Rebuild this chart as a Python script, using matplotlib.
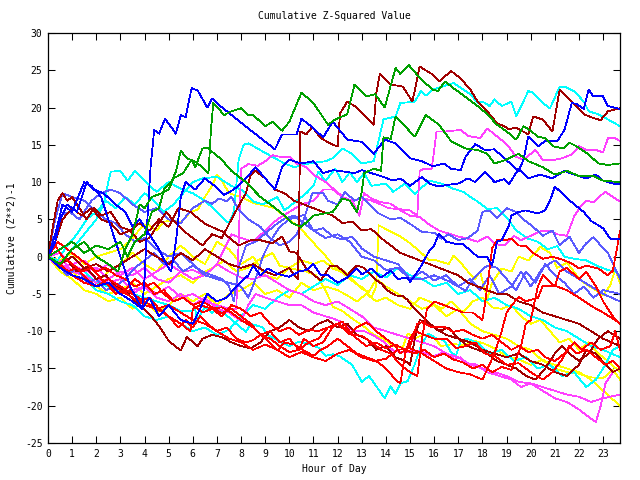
import matplotlib
matplotlib.use("Agg")
import matplotlib.pyplot as plt

# ---------------- data: (hour, cumulative value) vertices ----------------
blue_1 = [(0,0),(0.3,3),(0.6,7),(1.0,6),(1.5,10),(1.8,9.5),(2.2,8),(2.6,4),(3.0,0),(3.4,-4),(3.9,-7),(4.0,-3),(4.1,4),
          (4.25,12),(4.4,17),(4.6,16.5),(4.85,18.5),(5.3,16.5),(5.5,19),(5.7,18.7),(5.95,22.6),(6.2,22.3),(6.6,20),(6.8,21.2),
          (7.1,20.3),(7.8,18.5),(8.3,17.2),(9.4,14.4),(9.7,16.4),(10.3,16.4),(10.5,18.5),(10.9,17.5),(11.4,16),(11.8,18.1),
          (12.4,15.7),(13.0,15.4),(13.5,13.8),(13.95,15.7),(14.4,15.2),(15.0,13.2),(15.5,12.8),(15.95,12.1),(16.4,12.5),
          (16.7,11.8),(17.1,11.6),(17.3,13.4),(17.7,15.1),(18.1,14.3),(18.5,14.4),(18.9,13.2),(19.5,11.5),(19.7,13),(19.9,16.1),
          (20.3,14.8),(20.6,15.5),(21.1,15.5),(21.4,17),(21.7,20.6),(21.9,20.5),(22.2,19.8),(22.4,22.4),(22.6,21.5),(23.0,21.5),
          (23.2,20.2),(23.7,19.8)]
blue_2 = [(0,0),(0.3,2),(0.5,5),(0.8,7),(1.2,6),(1.6,10),(1.9,9),(2.3,8.5),(2.8,7),(3.2,6),(3.5,4),(3.8,5),(4.2,3),(4.6,1),
          (4.9,-1),(5.1,-2),(5.3,2),(5.5,8),(5.7,10),(6.1,9),(6.5,10.5),(6.9,9.5),(7.3,8.3),(7.7,9),(8.2,10.5),(8.6,12),(9.0,10.5),
          (9.4,9),(9.7,12),(10.0,13),(10.5,12.5),(11.0,12.8),(11.4,11.2),(11.8,11.6),(12.3,11.4),(12.7,11.2),(13.0,11.6),
          (13.4,11.2),(13.8,10.8),(14.3,10.2),(14.6,10.5),(15.0,9.5),(15.5,10.7),(15.8,9.8),(16.2,9.4),(16.5,9.6),(17.0,9.8),
          (17.4,10.5),(17.7,10),(18.1,11.4),(18.5,10),(18.9,10.4),(19.1,9.7),(19.5,11.8),(19.9,10.5),(20.4,11),(20.9,10.5),
          (21.4,11.5),(21.8,11),(22.3,10.5),(22.7,11),(23.0,10.2),(23.4,9.8),(23.7,9.7)]
blue_3 = [(0,0),(0.5,-1.5),(1,-2.5),(1.5,-3),(2,-4),(2.5,-3.5),(3,-5),(3.5,-6),(3.9,-7),(4.2,-5.5),(4.6,-8),(5,-6.5),(5.5,-8.5),
          (6,-9),(6.3,-7),(6.6,-5),(7,-6),(7.4,-5.5),(7.8,-4),(8.3,-2.5),(8.5,-1.2),(8.8,-2.5),(9.1,-1.6),(9.5,-2.3),(10.0,-2.7),
          (10.4,-2),(10.7,-1.8),(11.0,-1),(11.3,-2.5),(11.6,-2.5),(12.0,-3.5),(12.4,-2.8),(12.8,-1.6),(13.0,-2.4),(13.4,-1.6),
          (13.8,-2.8),(14.2,-1.9),(14.5,-3),(14.9,-2.8),(15.0,-3.4),(15.4,-1.6),(15.8,0.8),(16.0,1.5),(16.2,3.1),(16.5,2),
          (16.9,1.7),(17.2,1.7),(17.5,0.8),(17.8,0),(18.2,-0.1),(18.4,-1.2),(18.6,2),(18.8,2.2),(19.1,4.2),(19.2,5.5),(19.5,6),
          (19.8,6.2),(20.3,5.8),(20.6,6.2),(20.8,7.5),(21.0,9.4),(21.4,8.2),(21.8,7),(22.2,6),(22.5,4.8),(23.0,3.8),(23.3,2.4),
          (23.7,2.4)]
mblue_1 = [(0,0),(0.3,5),(0.6,8.5),(1,8),(1.5,7.5),(2,6),(2.4,5),(2.8,4.5),(3.2,3),(3.6,2),(4,2.5),(4.5,1),(5,0),(5.5,0.5),
           (6,-1),(6.5,-2.5),(7,-3),(7.5,-3.5),(8,-4),(8.3,-5.5),(8.6,-3),(8.9,0),(9.2,2),(9.6,4),(10,5),(10.6,5.6),(11,3.5),
           (11.5,2.5),(12,3),(12.5,2),(13,0),(13.5,-0.5),(14,-1.8),(14.5,-1.5),(15,-3),(15.5,-2),(16,-3.2),(16.5,-2.5),(17,-4),
           (17.5,-3),(17.9,-4.5),(18.3,-2.5),(18.7,-5),(19.2,-4),(19.6,-2),(20,-4),(20.5,-1.5),(21,-0.5),(21.5,-2),(22,-3),
           (22.5,-4),(23,-5),(23.7,-6)]
mblue_2 = [(0,0),(0.3,3),(0.5,5.5),(0.9,6),(1.3,5),(1.8,7.5),(2.2,8.5),(2.6,9),(3.0,8.5),(3.5,7),(4.0,6),(4.5,6.5),(5.0,5),
           (5.5,4.5),(6.0,6.5),(6.5,7.5),(6.8,7.1),(7.1,7.8),(7.4,7.4),(7.6,8),(7.9,6.3),(8.3,5),(8.8,4),(9.2,2.5),(9.6,1.5),
           (10.0,2),(10.3,3),(10.6,5),(10.95,8.5),(11.4,8.5),(11.6,7.5),(12.0,7),(12.3,8.7),(12.7,7.5),(13.0,8),(13.3,7),
           (13.7,5.8),(14.2,5),(14.6,5.2),(15.0,4.4),(15.5,3.3),(16.0,3.2),(16.3,2.4),(16.6,3),(17.0,2.2),(17.4,2.5),(17.8,3.5),
           (18.0,6),(18.3,6.2),(18.6,5.2),(19.0,6.5),(19.4,6),(19.7,5),(20.1,4),(20.5,2.8),(20.9,3.5),(21.2,1.5),(21.6,2.7),
           (22.0,0.5),(22.3,1.8),(22.6,2.6),(22.9,1.5),(23.2,0.5),(23.7,-3)]
mblue_3 = [(0,0),(0.4,-1),(0.8,-2.5),(1.2,-1.5),(1.6,-3.5),(2.0,-3),(2.4,-4.5),(2.8,-4),(3.2,-3),(3.6,-1.5),(4.0,-0.5),
           (4.4,0.5),(4.8,-1),(5.2,-0.5),(5.6,-2),(6.0,-1.2),(6.4,-2),(6.8,-2.5),(7.2,-3),(7.5,-4),(7.7,-6),(7.9,-1.5),(8.2,1.5),
           (8.6,2),(9.0,3.1),(9.4,4.2),(9.8,5.1),(10.2,5.5),(10.6,4.5),(11.0,3.5),(11.4,3.8),(11.8,2.7),(12.2,2.3),(12.6,2.7),
           (13.0,1.1),(13.5,0),(14.0,-0.5),(14.5,-1),(15.0,-3),(15.5,-3),(16.0,-2.5),(16.6,-3.3),(17.0,-4),(17.3,-4.6),
           (17.6,-3),(17.9,-2),(18.2,-1.2),(18.6,-1.5),(19.0,-3),(19.4,-4.5),(19.8,-2),(20.2,-3.5),(20.6,-1),(21.0,-2.5),
           (21.4,-3.5),(21.8,-5),(22.2,-4),(22.6,-5.5),(23.0,-4.5),(23.7,-5)]
green_1 = [(0,0),(0.5,1),(1,2),(1.5,0.5),(2,1.5),(2.5,1),(3,2),(3.3,0),(3.6,2),(4,3),(4.3,6),(4.6,6.5),(4.8,9),(5.1,10),
           (5.3,11.4),(5.5,14.2),(5.75,13.2),(6.0,12.9),(6.2,12.5),(6.5,11.7),(6.65,11.2),(6.75,17),(6.85,20.6),(7.3,19),
           (7.6,19.5),(8.0,19.9),(8.3,19),(8.5,19),(9.0,17.5),(9.3,18.1),(9.7,16.9),(10.0,18.1),(10.5,22),(11.0,20.6),(11.6,17.7),
           (11.9,18.4),(12.4,19.1),(12.7,23.1),(13.2,21.5),(13.55,21.8),(13.95,20),(14.4,25.3),(14.6,24.5),(14.95,25.7),
           (15.45,23.8),(15.95,22.4),(16.15,22.2),(16.45,23.5),(16.8,22.6),(17.1,21.9),(17.35,21.3),(17.8,20.2),(18.2,19.1),
           (18.6,17.7),(19.0,16.8),(19.4,15.7),(19.7,17.5),(19.95,17),(20.3,16.1),(20.6,15.9),(20.95,14.8),(21.35,14.5),
           (21.6,15.3),(21.9,14.8),(22.4,13.7),(22.8,12.5),(23.2,12.3),(23.7,12.5)]
green_2 = [(0,0),(0.5,-1),(1,1),(1.5,2),(2,0),(2.5,-1),(2.9,-2),(3.2,1),(3.5,3),(3.8,7),(4.0,6.5),(4.3,8),(4.7,8.5),(5.0,9),
           (5.2,10.5),(5.6,11.2),(5.95,13),(6.1,12),(6.4,14.5),(6.6,14.6),(7.2,13),(7.6,11.5),(8.2,10),(8.8,8),(9.3,6.8),
           (9.8,5.5),(10.1,4.5),(10.5,4),(11.0,5.5),(11.8,6),(12.2,7.8),(12.5,7.5),(12.8,6),(13.0,8.7),(13.1,11.2),(13.5,11.8),
           (13.8,11.5),(13.9,16),(14.2,15.8),(14.4,18.8),(15.2,16.1),(15.65,19),(16.2,17.7),(16.7,15.5),(17.3,14.5),(17.8,14.3),
           (18.2,13.8),(18.5,12.5),(18.9,12.9),(19.5,13.8),(19.9,12.8),(20.5,12),(21.0,11),(21.5,11.5),(22.0,10.8),(22.6,10.8),
           (23.0,10.2),(23.7,10)]
cyan_1 = [(0,0),(0.5,-1),(1,1),(1.5,3),(2,5),(2.3,7),(2.5,10),(2.6,11.4),(3.0,11.5),(3.3,10.2),(3.6,11.5),(4.2,9.5),(4.5,8.7),
          (5.0,10),(5.5,9.1),(6.0,8.5),(6.5,7.5),(7.0,6),(7.3,5),(7.5,4.5),(7.7,6),(7.9,13),(8.1,15),(8.3,15.2),(8.9,14.1),
          (9.4,13.2),(9.8,12.5),(10.2,12),(10.8,12.5),(11.5,12.8),(11.8,13.2),(12.2,14.5),(12.6,13.8),(13.0,12.5),(13.5,12.8),
          (13.9,18.4),(14.4,18.8),(14.6,20.6),(15.2,20.8),(15.45,22.2),(15.65,21.6),(15.95,22.4),(16.6,23.1),(16.8,23.3),
          (17.5,21.8),(17.8,20.6),(18.0,20.8),(18.3,20.2),(18.5,21.1),(18.8,20.2),(19.2,20.8),(19.4,18.8),(19.9,22.2),(20.1,22),
          (20.5,20.6),(20.8,19.9),(21.2,22.8),(21.4,22.8),(21.8,22.2),(22.2,20.8),(22.4,19.5),(22.8,19.1),(23.2,18.4),(23.7,17.5)]
cyan_2 = [(0,0),(0.5,-1),(1,-2),(1.5,-2),(2,-3.5),(2.5,-4),(3,-4.5),(3.5,-5),(4,-5.5),(4.5,-6),(5,-6.5),(5.5,-7.3),(5.8,-7.3),
          (6.1,-7.2),(6.2,-8.5),(6.5,-6.7),(6.8,-7.6),(7.0,-6.8),(7.3,-7.6),(7.8,-9),(8.2,-10.1),(8.4,-9),(8.9,-9.5),(9.1,-10.5),
          (9.6,-11.4),(10.0,-12),(10.4,-11.4),(10.8,-11.7),(11.2,-12.2),(11.5,-13.3),(11.8,-13.1),(12.1,-13.4),(12.6,-14.5),
          (13.0,-16.8),(13.3,-16),(13.95,-19),(14.2,-17.4),(14.4,-18.4),(14.6,-17),(14.9,-16.7),(15.2,-14.4),(15.45,-12),
          (15.75,-10.3),(16.1,-11),(16.4,-11.2),(16.7,-12.8),(16.9,-13.3),(17.1,-11.3),(17.35,-11),(17.6,-11.3),(17.8,-11.6),
          (18.3,-13),(18.8,-12.5),(19.3,-14),(19.8,-13.5),(20.3,-15),(20.8,-14.5),(21.3,-16),(21.8,-15.5),(22.3,-17.5),
          (22.7,-16.5),(23.1,-14.5),(23.4,-12.5),(23.7,-12)]
cyan_3 = [(0,0),(0.4,-0.5),(0.8,1.5),(1.2,3),(1.6,5),(2,6),(2.4,7.5),(2.8,6.5),(3.2,8),(3.6,7),(4,8.5),(4.4,7.5),(4.8,6),
          (5.2,7),(5.6,8.5),(6.0,10),(6.4,10.5),(7.0,10.7),(7.6,9.5),(8.0,9),(8.5,7.4),(8.9,7),(9.5,8),(9.8,6.2),(10.3,7.5),
          (10.7,8.5),(11.0,9.5),(11.2,11.4),(11.5,10.1),(11.7,11),(11.9,11.8),(12.2,10),(12.5,11.3),(12.8,10),(13.1,11.2),
          (13.4,9.5),(14.0,9.8),(14.3,8.7),(14.8,9.8),(15.2,8.4),(15.8,10.2),(16.3,9.8),(16.8,9.1),(17.2,8.7),(17.6,7.8),
          (17.8,7.4),(18.2,6.4),(18.6,6.5),(19.0,5.3),(19.4,3.5),(19.9,2.4),(20.3,2),(20.7,1),(21.1,1.4),(21.4,0),(21.8,-0.3),
          (22.3,-0.5),(22.8,-1.3),(23.2,-1.8),(23.5,-2),(23.7,-2.5)]
cyan_4 = [(0,0),(0.5,-1.5),(1,-2.5),(1.5,-3),(2,-4.5),(2.5,-5),(3,-6),(3.5,-6.5),(4,-8),(4.5,-8.5),(5,-8),(5.5,-9),(6,-10),
          (6.5,-9.5),(7,-10.5),(7.5,-9.8),(8,-8),(8.5,-6.5),(9,-7),(9.5,-5.5),(10,-4.5),(10.5,-5),(11,-4),(11.5,-3),(12,-3.8),
          (12.5,-2.5),(13,-3),(13.5,-2),(14,-2.8),(14.5,-1.5),(15,-2.5),(15.5,-3),(16,-4),(16.5,-3.5),(17,-5),(17.5,-4.5),
          (18,-6),(18.5,-5.5),(19,-6.5),(19.5,-7),(20,-8),(20.5,-8.5),(21,-9.5),(21.5,-10),(22,-11),(22.5,-12),(23,-12.5),
          (23.7,-13.5)]
magenta_1 = [(0,0),(0.3,-1),(0.6,-0.5),(1,-2),(1.5,-1.5),(2,-3),(2.5,-3.5),(3,-3),(3.5,-4.5),(4,-4),(4.5,-5),(5,-4),
             (5.5,-5.5),(6,-5),(6.5,-6),(7,-6.5),(7.5,-7),(7.8,-7),(7.9,2),(8.0,11.8),(8.3,12.4),(8.7,12.2),(9.0,12.8),
             (9.3,13.6),(9.6,13.4),(10.0,13.4),(10.3,12.5),(10.7,12),(11.0,11),(11.5,10),(11.9,8.9),(12.3,7.8),(12.7,7.5),
             (13.0,7.9),(13.4,7.5),(13.8,7),(14.1,6.5),(14.5,6.4),(15.0,6.2),(15.3,5.5),(15.4,11.5),(15.6,11.8),(15.9,11.8),
             (16.1,16.8),(16.5,16.8),(17.1,17),(17.4,16.2),(17.9,15.9),(18.2,17.2),(18.5,16.4),(19.0,15.1),(19.4,13.4),
             (19.7,13),(20.2,14.3),(20.5,13),(21.0,13),(21.3,13.2),(21.7,13.7),(22.0,14.8),(22.3,14.3),(22.7,14.3),(23.0,14),
             (23.2,15.9),(23.5,15.9),(23.7,15.5)]
magenta_2 = [(0,0),(0.5,0.5),(1,-1),(1.5,-0.5),(2,-2),(2.5,-1),(3,-2.5),(3.5,-1.5),(4,-3),(4.5,-2),(5,-1),(5.5,-2),(6,-3),
             (6.5,-2.5),(7,-1),(7.3,1),(7.6,3),(8,2.5),(8.5,2),(9,3.5),(9.5,5),(10,6),(10.5,7),(11,7.5),(11.4,9),(11.8,9),
             (12.2,8),(12.6,7.5),(12.9,5.5),(13.1,8.5),(13.4,7.8),(13.8,7.3),(14.2,7.1),(14.6,6.2),(15.0,5.5),(15.4,5.3),
             (15.8,4.3),(16.2,3.5),(16.6,3.1),(17.0,2.7),(17.4,2.4),(17.8,2),(18.2,2.7),(18.5,1.7),(18.9,1.5),(19.3,2.8),
             (19.6,2.2),(20.0,2.8),(20.4,3.4),(20.8,3.4),(21.1,3),(21.5,2.8),(21.8,5.4),(22.1,6.9),(22.3,7.5),(22.6,7.3),
             (22.9,8.2),(23.1,8.7),(23.4,8),(23.7,7.4)]
magenta_3 = [(0,0),(0.5,-1),(1,-2),(1.5,-2.5),(2,-3.5),(2.5,-3),(3,-4.5),(3.5,-5),(4,-4),(4.5,-5.5),(5,-6),(5.5,-5),(6,-6.5),
             (6.5,-5.5),(7,-7),(7.5,-7.5),(8,-8.6),(8.3,-6.5),(8.6,-5),(9,-5.5),(9.5,-6),(10,-6.5),(10.5,-6.5),(11,-7.5),
             (11.5,-8),(11.8,-8.3),(12.2,-8.8),(12.6,-9.9),(13.1,-10),(13.5,-10.6),(13.9,-11.4),(14.3,-12.6),(14.8,-12.8),
             (15.3,-12.6),(15.6,-12.9),(15.95,-13.4),(16.4,-12.8),(16.8,-13.7),(17.1,-13.5),(17.3,-14.4),(17.7,-14.4),
             (18.2,-15.5),(18.7,-16),(19.2,-16.5),(19.6,-17.5),(20,-17),(20.5,-18),(21,-19),(21.5,-19.5),(22,-20.5),
             (22.4,-21.5),(22.7,-22.2),(22.9,-20),(23.1,-17),(23.4,-15.5),(23.7,-15)]
magenta_4 = [(0,0),(0.5,-1.5),(1,-1),(1.5,-2),(2,-1.5),(2.5,-3),(3,-2),(3.5,-2.5),(4,-1.5),(4.5,-3),(5,-3.5),(5.5,-2),
             (6,-1.8),(6.5,-2.5),(7,-1),(7.5,-2),(8,-2.8),(8.5,-3),(9,-2.5),(9.5,-3.5),(10,-4.5),(10.5,-5),(11,-6),(11.5,-6.5),
             (12,-6),(12.5,-7),(13,-8),(13.5,-9.5),(14,-10),(14.5,-10.5),(15,-11),(15.5,-11.5),(16,-12),(16.5,-13),(17,-13.5),
             (17.5,-14.5),(18,-15),(18.5,-15.5),(19,-16),(19.5,-16.8),(20,-17),(20.5,-17.5),(21,-18),(21.5,-18.5),(22,-18.8),
             (22.5,-19.5),(23,-19),(23.7,-18.5)]
yellow_1 = [(0,0),(0.5,-1),(1,-2),(1.5,-2.5),(2,-3.5),(2.5,-2),(3,-1),(3.5,0.5),(4,-1),(4.5,-2),(5,0),(5.5,1.5),(6,0),(6.5,-1),
            (7,2),(7.5,1),(8,-1),(8.5,0),(9,-2.5),(9.5,-3),(10,-1.5),(10.5,-0.5),(11,-1),(11.4,-0.5),(11.8,-1.6),(12.2,-2.1),
            (12.7,-3.5),(13.1,-4.3),(13.4,-5.5),(13.6,-4),(13.7,4.2),(14.6,2.7),(15.0,1.8),(15.4,0.7),(15.8,-0.5),(16.1,-0.5),
            (16.6,-1),(16.8,0.1),(17.2,-1.2),(17.4,-2),(17.7,-3),(17.9,-2),(18.2,-5.6),(18.4,-3.5),(18.8,-1.6),(19.2,-2),(19.5,0),
            (19.9,-0.5),(20.4,1.3),(20.8,0.5),(21.1,-1.5),(21.5,-0.8),(21.9,-2.5),(22.2,-3.5),(22.7,-4.5),(23.0,-5.2),(23.3,-3.8),
            (23.5,-1.7),(23.7,-3.5)]
yellow_2 = [(0,0),(0.5,-0.5),(1,0.5),(1.5,-1),(2,0),(2.5,0.5),(3,1),(3.5,2.4),(3.8,3.7),(4.1,4.4),(4.5,3.5),(4.8,4.7),(5.2,4.8),
            (5.5,4.6),(5.9,6),(6.2,6.3),(6.5,8),(6.8,9.5),(7.0,11),(7.2,10.2),(7.5,8.5),(8.0,8),(8.5,7.2),(9.4,6.5),(9.9,5.1),
            (10.4,4),(11.1,1.5),(11.5,0.1),(11.9,-1.5),(12.3,-2),(12.6,-3),(13.0,-4.3),(13.3,-4.7),(13.6,-3),(14.0,-4),
            (14.5,-5),(15,-6),(15.5,-7),(16,-6.5),(16.5,-8),(17,-7),(17.5,-9),(18,-10),(18.5,-10.5),(19,-11),(19.5,-12),
            (20,-12.5),(20.5,-14),(21,-14.5),(21.5,-15),(22,-15.5),(22.5,-16.5),(23,-18),(23.7,-20)]
yellow_3 = [(0,0),(0.5,-1.5),(1,-2),(1.5,-3.5),(2,-4),(2.5,-5),(3,-4.5),(3.5,-3.5),(4,-5),(4.5,-4),(5,-3),(5.5,-2.5),(6,-3.5),
            (6.5,-2),(7,-1.2),(7.3,-0.5),(7.8,-2),(8.3,-1.5),(8.7,-0.5),(9.3,0.5),(9.6,-1.2),(10.1,-1.6),(10.7,-2),(11.1,-2.5),
            (11.5,-4.5),(11.8,-6.7),(12.2,-7.3),(12.6,-8.3),(13.1,-9.4),(13.5,-10.5),(13.9,-11),(14.3,-12),(14.7,-12.2),
            (14.9,-10.3),(15.2,-11),(15.5,-10.5),(15.95,-10.8),(16.3,-12),(16.8,-11.7),(17.2,-11.9),(17.7,-11.3),(18.1,-11.7),
            (18.6,-12.5),(19.0,-13.4),(19.5,-13.8),(20,-14.5),(20.5,-13.8),(21,-15),(21.5,-15.5),(22,-15.7),(22.5,-16.2),
            (23.0,-16.3),(23.4,-15.2),(23.7,-16.5)]
yellow_4 = [(0,0),(0.5,-2),(1,-3),(1.5,-4.5),(2,-5),(2.5,-6),(3,-5.5),(3.5,-7),(4,-6),(4.5,-7.5),(5,-6.5),(5.5,-5),(6,-6),
            (6.5,-5),(7,-6.5),(7.5,-5),(8,-4.5),(8.5,-3.5),(9,-5),(9.5,-4.5),(10,-5.5),(10.5,-3.5),(11,-4.5),(11.5,-4),(12,-4.5),
            (12.4,-5.2),(12.8,-6),(13.2,-5),(13.6,-6),(14,-5.5),(14.5,-6.5),(15,-7),(15.4,-5.5),(15.8,-6),(16.3,-7),(16.7,-6),
            (17.2,-7.5),(17.6,-6),(18.0,-5.5),(18.4,-6.8),(18.8,-7),(19.2,-6.5),(19.6,-8),(20,-9),(20.4,-8.5),(20.8,-10),
            (21.2,-11.5),(21.6,-11),(22,-12.5),(22.4,-11.5),(22.8,-13),(23.2,-14),(23.7,-15.5)]
red_1 = [(0,0),(0.3,1.5),(0.6,0),(1,-1),(1.4,-2),(1.8,-1.5),(2.2,-3),(2.6,-4),(3,-5),(3.4,-4.5),(3.8,-6),(4.2,-5.5),(4.6,-7),
         (5,-8),(5.4,-9.5),(5.7,-8.5),(6.0,-9.5),(6.3,-8),(6.6,-9),(7.0,-10),(7.4,-9.5),(7.8,-11),(8.2,-11.5),(8.5,-11.2),
         (8.8,-10.5),(9.2,-10),(9.6,-11.5),(10.0,-11),(10.4,-12.5),(10.6,-11),(11.0,-12),(11.4,-11.5),(11.8,-9.4),(12.2,-8.7),
         (12.6,-10.5),(13.0,-10.6),(13.4,-11.5),(13.8,-12.5),(14.2,-13),(14.6,-14.5),(15.0,-15.5),(15.3,-16),(15.5,-11),
         (15.7,-7),(16.0,-6),(16.4,-6.5),(16.8,-7),(17.2,-7.5),(17.6,-7.5),(18.0,-8.5),(18.1,-6.5),(18.3,-1.6),(18.4,1.1),
         (18.6,2.2),(18.9,2.2),(19.2,2.4),(19.5,1.5),(19.8,1.4),(20.1,0.5),(20.5,-0.3),(20.9,0),(21.3,-0.4),(21.7,-0.9),
         (22.0,-1.6),(22.3,-1.2),(22.8,-1.6),(23.2,-2.5),(23.4,-1.9),(23.55,0.7),(23.65,2.4),(23.7,3.5)]
red_2 = [(0,0),(0.4,-1),(0.8,-2),(1.2,-1.5),(1.6,-3),(2,-4),(2.4,-3.5),(2.8,-5),(3.2,-4.5),(3.6,-3),(4,-4),(4.4,-3.5),(4.8,-5),
         (5.2,-6),(5.6,-5.5),(6,-6.5),(6.4,-7.5),(6.8,-7),(7.2,-8),(7.6,-6.5),(8,-7),(8.4,-8),(8.8,-7.5),(9.2,-9),(9.6,-10),
         (10,-9.5),(10.4,-10.5),(10.8,-9.8),(11.2,-10),(11.6,-9.5),(12,-9),(12.4,-9.8),(12.8,-11),(13.2,-12),(13.6,-11.5),
         (14,-12.3),(14.4,-11.8),(14.8,-12.5),(15.2,-13),(15.6,-12.5),(16,-13.5),(16.4,-13),(16.8,-13.8),(17.2,-14.2),
         (17.6,-15),(18,-14.5),(18.4,-15.5),(18.8,-14.8),(19.2,-15.2),(19.6,-12),(19.8,-9),(20.0,-8.5),(20.3,-4),(20.5,-2.5),
         (21.0,-4),(21.2,-2),(21.5,-1.5),(22,-3),(22.3,-2),(22.7,-4),(23.0,-6),(23.4,-8),(23.7,-9)]
red_3 = [(0,0),(0.5,-1),(1,-2.5),(1.5,-3),(2,-4),(2.5,-3.5),(3,-4.5),(3.5,-5.5),(4,-6.5),(4.5,-7),(5,-8),(5.5,-9),(5.9,-10),
         (6.0,-7),(6.3,-6.5),(6.8,-7),(7.2,-6.8),(7.6,-7.5),(8,-8.5),(8.5,-9.5),(9.0,-11),(9.5,-12.6),(9.8,-11.5),(10.2,-11.8),
         (10.6,-12.6),(11.0,-13.3),(11.3,-12.5),(11.6,-12),(12.0,-11),(12.4,-12),(12.8,-13),(13.2,-13.5),(13.6,-14),(14.0,-15),
         (14.4,-16.5),(14.6,-17),(14.8,-13),(15.0,-11),(15.2,-10),(15.6,-10.5),(16.0,-11),(16.5,-11),(16.9,-12.3),(17.3,-12),
         (17.7,-11.5),(18.1,-13),(18.5,-13.3),(19,-14.5),(19.5,-14.3),(20,-15.5),(20.5,-16.5),(20.9,-15.5),(21.3,-13.8),
         (21.6,-12),(21.9,-13),(22.3,-12.5),(22.7,-13.5),(23.1,-14.5),(23.4,-14),(23.7,-15)]
red_4 = [(0,0),(0.4,2),(0.8,1),(1.2,0),(1.6,-1),(2,-2),(2.4,-1.5),(2.8,-2.5),(3.2,-3),(3.6,-4),(4,-3.5),(4.4,-5),(4.8,-4.5),
         (5.2,-6),(5.6,-5.5),(6.0,-6.5),(6.4,-6),(6.8,-6.8),(7.2,-7.6),(7.6,-7),(8.0,-8),(8.4,-9),(8.8,-10.5),(9.2,-11),
         (9.6,-12),(10.0,-12.8),(10.4,-12.5),(10.8,-11.5),(11.2,-11),(11.6,-9.5),(12.0,-9),(12.5,-10.4),(12.8,-9.5),(13.2,-8.8),
         (13.6,-10),(14.0,-11),(14.4,-12),(14.6,-13),(15.0,-12),(15.3,-9),(15.5,-8.8),(15.9,-9.5),(16.4,-9.4),(16.8,-10.1),
         (17.2,-9.8),(17.6,-10.5),(18.0,-11),(18.4,-10.5),(18.8,-11.5),(19.2,-12.5),(19.5,-12),(19.9,-12.8),(20.3,-12.5),
         (20.6,-13.5),(21.0,-14),(21.4,-13),(21.8,-11.5),(22.1,-12.5),(22.5,-11.5),(22.9,-12.5),(23.3,-12),(23.5,-10),
         (23.7,-12.5)]
red_5 = [(0,0),(0.5,-1.5),(1,-2.5),(1.5,-3.5),(2,-4),(2.5,-3),(3,-4),(3.5,-5),(4,-6),(4.5,-7),(5,-6.5),(5.5,-7.5),(6,-8.5),
         (6.5,-9),(7,-10),(7.5,-11),(8,-11.5),(8.5,-12.5),(9,-11.8),(9.5,-12.5),(10,-13.5),(10.5,-12.8),(11,-13.5),(11.5,-14),
         (12,-13),(12.5,-12.5),(13,-13.5),(13.5,-14),(14,-13.7),(14.5,-12.5),(15,-12.3),(15.5,-13),(16,-14),(16.5,-15),
         (17,-15.5),(17.5,-15.8),(18,-16.5),(18.5,-13),(18.8,-10),(19.0,-7.5),(19.2,-6.6),(19.5,-5.4),(19.8,-6),(20.3,-5.5),
         (20.5,-3.9),(21.0,-3.9),(21.5,-4.5),(22.0,-5.5),(22.5,-6.6),(23,-7.5),(23.5,-8.5),(23.7,-9)]
dred_1 = [(0,0),(0.5,-1),(1,0),(1.5,-1.5),(2,-1),(2.5,-2),(3,-1),(3.5,0),(4,1),(4.5,0),(5,-1),(5.5,0.5),(6,-0.5),(6.5,1),
          (7,0),(7.5,-1),(8,-1.5),(8.5,-1),(9,-2),(9.4,-2.5),(9.7,-2),(10,-1.5),(10.2,-2.5),(10.35,-3),(10.4,5),(10.45,16.8),
          (10.7,16.4),(10.95,17.4),(11.3,15.9),(11.8,15),(12.0,14.8),(12.1,19.2),(12.4,20.8),(12.8,20),(13.5,17.7),(13.6,21.9),
          (13.75,24.5),(14.2,23.1),(14.7,22.8),(15.1,20.8),(15.4,25.5),(15.9,24.5),(16.2,23.5),(16.7,24.9),(17.1,23.9),
          (17.5,22.4),(17.8,20.8),(18.2,19.5),(18.6,17.9),(18.9,17.5),(19.1,17.1),(19.4,17.3),(19.9,16.4),(20.1,18.8),
          (20.5,18.4),(20.9,16.8),(21.2,22.4),(21.7,20.8),(22.2,19.1),(22.6,18.6),(22.9,18.3),(23.2,19.5),(23.7,19.9)]
dred_2 = [(0,0),(0.2,4),(0.4,7.5),(0.6,8.5),(0.8,7.5),(1.0,8),(1.3,6.5),(1.6,5),(1.9,6.5),(2.2,5.5),(2.6,6),(3.0,4),(3.4,3.5),
          (3.8,2),(4.2,2.5),(4.6,4.5),(4.9,6),(5.2,4.8),(5.6,3.5),(6.0,2.5),(6.4,1.5),(6.8,3),(7.2,2.5),(7.6,5),(8.0,7.4),
          (8.2,8.5),(8.4,11),(8.6,11.5),(9.0,10.5),(9.4,9),(9.8,8.5),(10.2,7.5),(10.6,7),(11.0,6.5),(11.4,6),(11.8,5.5),
          (12.2,4.5),(12.6,4.7),(13,3.5),(13.4,3.7),(13.8,2.5),(14.2,1.5),(14.6,0.5),(15,0),(15.4,-0.5),(15.8,-1),(16.2,-1.5),
          (16.6,-2),(17,-2.5),(17.4,-3.5),(17.8,-4),(18.2,-4.5),(18.6,-5),(19,-5),(19.5,-6),(20,-6.5),(20.5,-7.5),(21,-8),
          (21.5,-8.5),(22,-9),(22.5,-10),(23,-11),(23.7,-12)]
dred_3 = [(0,0),(0.4,-1),(0.8,-0.5),(1.2,-2),(1.6,-1.5),(2,-3),(2.4,-2.5),(2.8,-4),(3.2,-4.5),(3.6,-6),(3.8,-6.4),(4.2,-7.7),
          (4.6,-9.3),(5.0,-11.3),(5.3,-12.1),(5.5,-12.6),(5.75,-10.8),(6.0,-11.4),(6.2,-12),(6.4,-11),(6.8,-10.5),(7.2,-10.8),
          (7.6,-11.5),(8.0,-12),(8.4,-12.3),(8.8,-11.5),(9.2,-10),(9.6,-9.5),(10.0,-8.5),(10.4,-9.5),(10.8,-10),(11.2,-9),
          (11.6,-8.5),(12,-9.5),(12.4,-9),(12.8,-10.5),(13.2,-11),(13.6,-12.5),(14.0,-12),(14.4,-13.5),(14.8,-14),(15.0,-14.5),
          (15.2,-11),(15.4,-8.5),(15.8,-9),(16.2,-10),(16.6,-9.5),(17,-11),(17.4,-12),(17.8,-12.5),(18.2,-13),(18.6,-14),
          (19,-14.5),(19.4,-15),(19.8,-16),(20.2,-16.5),(20.6,-15),(21,-13),(21.3,-12),(21.6,-13),(22,-14),(22.4,-13),(22.8,-11),
          (23.2,-10),(23.7,-11)]
dred_4 = [(0,0),(0.3,2),(0.6,5),(1,6.5),(1.4,5.5),(1.8,6.5),(2.2,5),(2.6,4.5),(3,3),(3.4,3.5),(3.8,4.5),(4.2,3.5),(4.6,5),
          (5.0,4),(5.4,6.5),(5.9,6),(6.5,4.4),(7.2,3.4),(7.9,1.5),(8.4,2.2),(8.8,2.2),(9.3,1.8),(9.7,2.7),(10.0,0.7),(10.3,0.5),
          (10.7,-1.6),(11.3,-3.2),(11.7,-1.2),(12.0,-1.3),(12.4,-2.5),(12.8,-1.2),(13.1,-1.5),(13.5,-2.9),(13.8,-3.6),
          (14.1,-4.6),(14.4,-5.2),(14.7,-5.3),(14.9,-5.8),(15.1,-6.7),(15.5,-8),(16,-9.5),(16.5,-10.5),(17,-11),(17.5,-11.5),
          (18,-12.5),(18.5,-13),(19,-13.5),(19.5,-13),(20,-14),(20.5,-14.5),(21,-15.5),(21.5,-16),(22,-14.5),(22.3,-12.5),
          (22.7,-13),(23.1,-14.5),(23.4,-15.5),(23.7,-15)]

hour_ticks = list(range(0, 24))
value_ticks = [-25, -20, -15, -10, -5, 0, 5, 10, 15, 20, 25, 30]

# ---------------- styles ----------------
RED, DRED, GREEN, BLUE = "#ff0000", "#a00000", "#00a000", "#0000ff"
MBLUE, MAGENTA, CYAN, YELLOW = "#5a5aff", "#ff40ff", "#00ffff", "#ffff00"

series = [
    (yellow_2, YELLOW), (yellow_3, YELLOW), (yellow_4, YELLOW), (yellow_1, YELLOW),
    (cyan_4, CYAN), (cyan_3, CYAN), (cyan_2, CYAN), (cyan_1, CYAN),
    (magenta_4, MAGENTA), (magenta_3, MAGENTA), (magenta_2, MAGENTA), (magenta_1, MAGENTA),
    (mblue_1, MBLUE), (mblue_2, MBLUE), (mblue_3, MBLUE),
    (dred_4, DRED), (dred_3, DRED), (dred_2, DRED), (dred_1, DRED),
    (red_5, RED), (red_4, RED), (red_3, RED), (red_2, RED), (red_1, RED),
    (blue_3, BLUE), (blue_2, BLUE), (blue_1, BLUE),
    (green_2, GREEN), (green_1, GREEN),
]

FONT = "DejaVu Sans Mono"
FS = 7

fig = plt.figure(figsize=(6.4, 4.8), dpi=100)
ax = fig.add_axes([48/640, 1-443/480, (620-48)/640, (443-33)/480])

for pts, col in series:
    xs = [p[0] for p in pts]
    ys = [p[1] for p in pts]
    ax.plot(xs, ys, color=col, lw=0.55, antialiased=False)

ax.set_xlim(0, 23.7)
ax.set_ylim(-25, 30)
ax.set_xticks(hour_ticks)
ax.set_yticks(value_ticks)
ax.set_xticklabels([str(h) for h in hour_ticks], fontfamily=FONT, fontsize=FS)
ax.set_yticklabels([str(v) for v in value_ticks], fontfamily=FONT, fontsize=FS)
ax.tick_params(direction="in", length=5, width=0.75, top=True, right=True, pad=4)
for s in ax.spines.values():
    s.set_linewidth(0.9)

ax.set_title("Cumulative Z-Squared Value", fontfamily=FONT, fontsize=FS, pad=10)
ax.set_xlabel("Hour of Day", fontfamily=FONT, fontsize=FS, labelpad=4)
ax.set_ylabel("Cumulative (Z**2)-1", fontfamily=FONT, fontsize=FS, labelpad=6)

fig.savefig("out.png", dpi=100)
